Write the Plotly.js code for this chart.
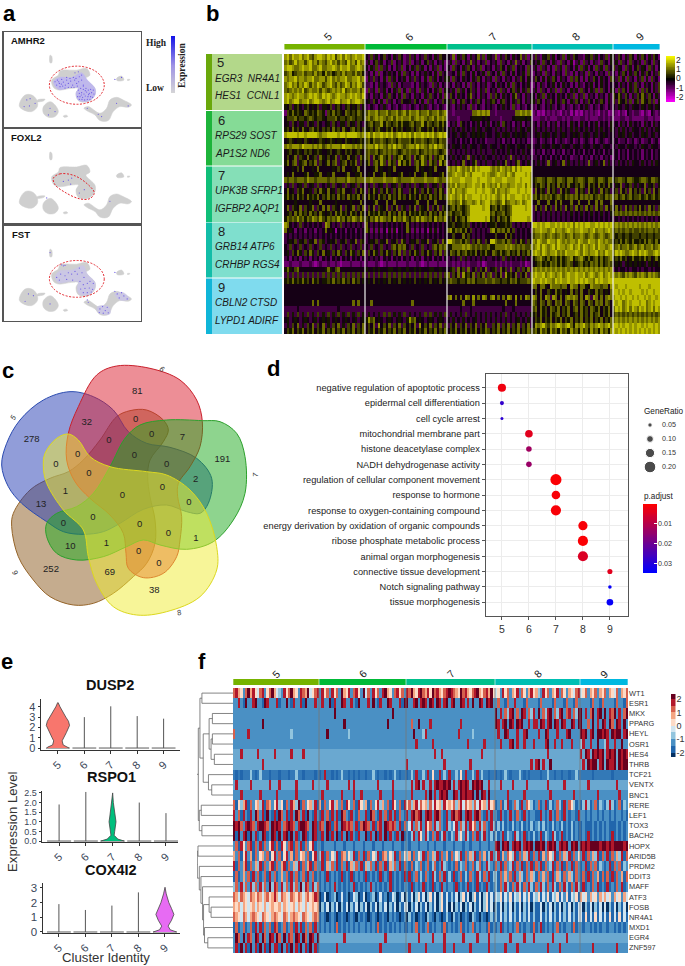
<!DOCTYPE html>
<html><head><meta charset="utf-8">
<script src="https://cdn.plot.ly/plotly-3.0.1.min.js"></script>
<style>html,body{margin:0;padding:0;background:#fff}#g{width:685px;height:966px}.heatmaplayer image{filter:blur(.5px)}</style></head>
<body><div id="g"></div>
<script>
/* ---------- data ---------- */
const clusters=['5','6','7','8','9'];
const clusterColors=['#76B300','#00BA38','#00C08B','#00BFB3','#00B8E0'];
/* panel b : each digit 0-9 = scaled expression -2.5..2.5 */
const bWidths=[81,82,85,81,47];
const bCounts=[32,32,34,32,20];
const bRows=[
"89798897897689987989689798789889 43635246342536423635243634253644 4372536425347362543725364253473625 36325463524362536433254635243625 53642536425364253642",
"78679788689786876897868769786978 35246352436243523624352463524352 3526342537352436243526342537352436 43526342532634251352634253263425 35263426343526342634",
"89987789889778977889879889778987 42536263524253624253635242536242 4263425364253624342536425362434263 35263524263526342526352426352634 63542635246354263524",
"67856778677686758675676867768675 34252624353425263425243534252634 3342526342524352634252634252435263 24352634253426325243526342534263 42536425364253642536",
"87889788788977886897878897788978 25363425263524352536342526352435 5263425342536425352634253425364253 36425253642534263642525364253426 53625263425362526342",
"78978687986879867897686798687986 33242534326352433324253432635243 3425342526342435234253425263424352 24253243524253424253243524253424 34253425363425342536",
"76787879678778687678787967877868 26352635242536252635263524253625 4352635246352536243526352463525362 35263425362634253526342536263425 52636425365263642536",
"89878988789898798987898878989879 34253425363425263425342536342526 3642534257342534263642534257342534 42536253425342536253625342534253 64753642536475364253",
"89789978897899878978997889789987 45364252635243644536425263524364 5364256342536425356425634253642535 53642536425364253642536425364253 63754636256375463625",
"54635643564546355463564356454635 32432435324324323243243532432432 4324353426324324343243534263243243 32432435324324324324353243243243 43543543544354354354",
"26575654765657652657565476565765 68778677867786786877867786778678 3323333333778787833233333337787878 23121323232132313121323232132312 32132143233213214323",
"46667566567656654666756656765665 78678787678687877867878767868787 3333233334555545433332333345555454 22233232223323232223323222332323 22233223222223322322",
"45364355364536434536435536453643 56756685765675755675668576567575 2435264342435243524352643424352435 34253424352434253425342435243425 34253425343425342534",
"56475647546756465647564754675646 55646754657465645564675465746564 4353435343535435443534353435354354 35343534353534353534353435353435 43535343544353534354",
"89999899899998788999989989999878 89798898989789898979889898978989 4345354534545453443453545345454534 34535453453454345453545345345434 43545345344354534534",
"45654554654545654565455465454565 67576676567657666757667656765766 3343424342434342333434243424343423 23423432423432342342343242343234 34233423423423342342",
"78788879888787867878887988878786 78879787687978767887978768797876 4354435435443544354435435443544354 34435443544354435443544354435443 43544354434354435443",
"45645654656456544564565465645654 67667567676765676766756767676567 3534343534343534335343435343435343 24342434243424342434243424342434 34243424343424342434",
"46457365474563754645736547456375 67375686573657856737568657365785 4353435373534353443534353735343534 33424342434243423342434243424342 34243424343424342434",
"57467356746573645746735674657364 57367586375638575736758637563857 3435347343573435334353473435734353 43534373453473534353437345347353 43534353544353435354",
"44454647444547444445464744454744 44457454454744444445745445474444 8787987879798999987879878797989999 44444444444444444444444444444444 44444444444444444444",
"45474444574455744547444457445574 45474457454445744547445745444574 7789887987999989877898879879999898 44444444444444444444444444444444 44444444444444444444",
"76776777687767777677677768776777 77877778777876777787777877787677 8988899888998999889888998889989998 56776577657765775677657765776577 56776577655677657765",
"35363453634536343536345363453634 35363453634536343536345363453634 7879788788988979878797887889889798 46576475647564754657647564756475 35473546353547354635",
"47453657445364754745365744536475 36475364753647533647536475364753 8797887899989989987978878999899899 37465374653746533746537465374653 46374637464637463746",
"57564756475657465756475647565746 47564756475647564756475647564756 8987897988999898989878979889998989 67576767567657676757676756765767 67567567566756756756",
"44445444445444744444544444544474 44457444744744444445744474474444 7876796788789789978767967887897899 44744474474744474474447447474447 44444444444444444444",
"47365473645736474736547364573647 36473654736473653647365473647365 5675765679999989956757656799999899 37463746374637463746374637463746 47463746364746374636",
"45647575647564754564757564756475 47565756475647574756575647564757 6756675679999999967566756799999999 34353435343534353435343534353435 67676767676767676767",
"57676867576876865767686757687686 65768687675867686576868767586768 5647567589999998956475675899999989 34343434343434343434343434343434 34343434343434343434",
"87434363434343438743436343434343 74343434343434347434343434343434 5564556563434343455645565634343434 99898998898989897989899889898989 78787878787878787878",
"74542434243424347454143424342434 75252524152514347525242415252434 7857675746343434378576757463434343 78898878978878987889887897887898 67676776766767677676",
"34343434343434343434343434343434 34343434343434343434343434343434 4464447464343434444644474643434344 67787678767876786778767876787678 65665665666566566566",
"34546354635473653454635463547365 34546354735463753454635473546375 9976675763647536499766757636475364 87987798879878788798779887987877 56575765755657576575",
"43634363436343634363436343634363 43634363436757674363436343675767 5577778787676766755777787876767667 78979878979887897897987897988789 67867786786786778678",
"45364753647536474536475364753647 36475364753647363647536475364736 4765756756574657547657567565746575 89879878897879888987987889787988 79898778987989877898",
"34243424342434243424342434243424 34343424342434243424342434243424 3434363534343534334343635343435343 56786575675756785678657567575678 56575645755657564575",
"22322232223212322322321222322232 32223212322232223222321232223222 3323232323332312333232323233323123 45675657675756764567565767575676 45453545454545354545",
"57546744444444445754674444444444 54454544455445445445454445544544 4563746373463647345637463734636473 78787878787878787878787878787878 34344343443434434344",
"36363636363636363636363636363636 36363636363636363636363636363636 7364738564736473673647385647364736 89889789878978988988978987897898 87876878768787687876",
"56575657564756455657565756475645 45464545464546454546454546454645 6766566576756667667665665767566676 98898988798988988989898879898899 99999999999999999999",
"44444444444444444444444444444444 44444444444444444444444444444444 4444444444444444444444444444444444 77477548777677487747754877767748 98999899999899989999",
"44444444444444444444444444444444 44444444444444444444444444444444 4444444444444444444444444444444444 46474465475645474647446547564547 99898998999989899899",
"44444444444444444444444444444444 44444444444444444444444444444444 7847474874847487478474748748474874 87474873874747878747487387474787 89989899898998989989",
"44444444444747444444444444474744 44744444444444444474444444444444 4444447444744444444444474447444444 76476476476747647647647647674764 98997898999899789899",
"33333433333333333333343333333333 33333333333333333333333333333333 3333343334333333333333433343333333 67475647657465746747564765746574 79897897987989789798",
"36353635363536353635363536353635 35343536363535363534353636353536 3534353634353435353435363435343535 56475647567465745647564756746574 67676767676767676767",
"45345434543453454534543454345345 58674543454345435867454345434543 4353435343453435343534353434534353 46574657465746574657465746574657 78787878787878787878",
"35364735364736473536473536473647 46473846473647364647384647364736 3647364736473647336473647364736473 58789768789878975878976878987897 99898998989989899898",
"46574657465746574657465746574657 46574657465746574657465746574657 4657465746574657646574657465746576 67586758675867586758675867586758 98989898989898989898"];
const bLabelColors=['#B3D88A','#85DB96','#85DFB7','#7FDFCE','#7FDBEE'];
const bLabelBars=['#6AA80B','#1DB43A','#10BE78','#12BDA8','#10B5D8'];
const bGenes=[['EGR3  NR4A1','HES1  CCNL1'],['RPS29 SOST','AP1S2 ND6'],['UPK3B SFRP1','IGFBP2 AQP1'],['GRB14 ATP6','CRHBP RGS4'],['CBLN2 CTSD','LYPD1 ADIRF']];
/* panel f : 0-9 = colour step, a / b = the paler / deeper blue background rows */
const fWidths=[86,87,89,85,48];
const fCounts=[36,36,38,36,20];
const fGenes=['WT1','ESR1','MKX','PPARG','HEYL','OSR1','HES4','THRB','TCF21','VENTX','BNC1','RERE','LEF1','TOX3','BACH2','HOPX','ARID5B','PRDM2','DDIT3','MAFF','ATF3','FOSB','NR4A1','MXD1','EGR4','ZNF597'];
const fRows=[
"786527968547825796432857965287694578 285728572965827852947285728965278572 87965897685978657898765978657896578695 452857265827526856328572658275265478 45726572657265472657",
"228219228922198222812292182281922282 282291822982282192228292182298222819 92289289829829828928922982829229829892 272217228222172222172222172221722172 22221722172222172217",
"222222222222222222222222222222222222 222222922222222222222222222222922222 22222222222222222222222222222222222222 928273892729827382927389273892782739 92827928929287928279",
"222222222222922222222222222222222222 222222222292222222222222222292222222 22722922228222222222222822222222222222 982892982989228288298289298298229829 92272928298297298292",
"722222822222222222222222322222222222 222922222222322222222222222222222222 22292223822222222222228222223222222222 282298222822892222822982228222892222 98928929989829899289",
"222222222222222222222222222222222222 222222222222222222222222222222222222 22228222222822222222222222822222282222 228222892822822282222892282282228222 38228229223822822922",
"aaa8aaaaaa8aaaaaa8aaaaaa8aaaa8aaaaaa aaaaaaaaaaaaaaaaaaaaaaaaaaaaaaaaaaaa aaaaaaaaaaaa8aa8aaaaaaaaaaaaaaaa8aaaaa aaaaaaaaaaaaaaaaaaaaaa8aaaaaaaaaaaaa 8a98a98989a8989a9898",
"aaaaaaaaaaaa8aaaaaaaaaaaaaaaaaaaaaaa aaaaaaaaaaaaaaaaaaaaaaaaaaaaaaaaaaaa 8aaaaaaaaaaaaaaa8aaaaaaaaaa8aaaaaaaaaa aaaaaaaaaaaaaaa8a89a8aa9aaaaaaaaaaaa a8a9899a89a9889a9899",
"b1b1bbb3b1b3bbb1bbb1bbb1bb3bb1bbbb1b 1b8bb1b1b3bb1b1b1bb1bb3b1bb1b1b3b1bb 1b3b8bb3b8b5bb8b3b8bb3b5b8bb3b8b3bb1bb 1b1b3b1bbb3b1b1bbbb1bb3bb1bb1bb1bb3b bbbbb1bbbbbbb1bbbbbb",
"a8aaaaa8aaaaaaa8aaa8aaaaaa8aaaaaa8aa aaa8aaaaaaaa8a8aaaaaaaaa8aaaaa8aaaaa aa8a89a8aa8a8988989a8a89898a98989aa8aa aa8aaaa8aaaaa8aaaaaaaa8aaaaaa8aaaaaa aaa8aaaaaaaaaaa8aaaa",
"222822222228222222822222228222222222 282222222822228228222222282222822222 22822222829282898922982989889292982922 222228222222822222222228222222222822 22222228222222228222",
"715368172563817625835172863917256381 617258362718527185361725836271852718 57368475637485638565736847563748563856 127138127318275312712813127318275312 13831271321383127132",
"827182182972819218197281829728192182 182718281972182172281972182718281721 82897892898289721828978928982897218282 218212821721821221182128217218212218 22121221212212122121",
"989728987289987298982789872899872981 872981782987872817987281782987872817 24827382857283721832482738285728372183 131312131213121312313121312131213121 12111212121211121212",
"919289192812981298192891928129812981 182918291829182182291829182918218291 21382852831728138213283528317281382131 312813218312812131281321831281213121 12181212121218121212",
"271852781728172581718527817281725812 212222122212221222122212221222122212 21222122212212221222122212212221222122 892989289892898929989289892898929892 98989999899898999989",
"627158261725627158271582617256271582 381725381762538172817253817625381725 36172538172638172617253817263817261382 381627538172638172816275381726381725 28172638172817263817",
"817268172638172681726817263817268172 281637281728163728163728172816372817 21713271271371283212171327127137128321 728172381728172817281723817281728172 12817271321281727132",
"171262718271271827126271827127182712 121812121812181212181212181218121218 18127131721831728131812713172183172813 317262718263172631726271826317263172 17181726171718172617",
"372837283728372938728372837293872837 121212821212128121212821212128121212 21812128121812182122181212812181218212 317283172831728317283172831728317283 18121728121812172812",
"764765476576467568647654765764675687 014012301412014301401230141201430140 31403514035140351413140351403514035141 435142514351425143514251435142514351 64526452646452645264",
"656465456465464565564654564654645656 031403140314031403140314031403140314 40314031403140351404031403140314035140 314031403140314031140314031403140314 40314031404031403140",
"765476467654765467654764676547654676 121012101210121021210121012102121012 03120121032102101310312012103210210131 314131413141314131141314131413141314 41514151414151415141",
"171271271828172718712712718281727182 121212171212121212212121712121212121 12127121271212217121212712127121221712 128121212712122171281212127121221712 21221212122122121212",
"297292872982972982972928729829729829 aaaaaaaaaa8aaaaaaaaaaaaaaaa8aaaaaaaa aaaaa8aaaaa8aaaa8aaaaaaa8aaaaa8aaaa8aa aaaaaa8aaaaa8aaa8aaaaaaa8aaaaa8aaaaa aaaaaaaaaaaaaaaaaaaa",
"281928192819281928819281928192819281 222222282222222222222222282222222222 28222222822222228222822222282222222822 222282222822222222222282222822222222 22222822222222282222"];
const fColors=['#053061','#2166AC','#4A90C4','#92C5DE','#D1E5F0','#FDDBC7','#F4A582','#D6604D','#B2182B','#67001F'];
/* dendrogram merges: [child, child, height]; child<26 = gene row, else merge index+26 */
const fTree=[[0,1,20],[2,3,52],[4,5,52],[6,7,58],[28,29,48],[27,30,42],[9,10,50],[8,32,40],[31,33,24],[26,34,14],[11,12,18],[13,14,20],[36,37,12],[35,38,9],[15,16,8],[21,22,48],[20,41,42],[24,25,38],[23,43,28],[42,44,25],[19,45,22],[18,46,17],[17,47,12],[40,48,6],[39,49,1]];
/* panel d */
const goTerms=['negative regulation of apoptotic process','epidermal cell differentiation','cell cycle arrest','mitochondrial membrane part','histone deacetylase complex','NADH dehydrogenase activity','regulation of cellular component movement','response to hormone','response to oxygen-containing compound','energy derivation by oxidation of organic compounds','ribose phosphate metabolic process','animal organ morphogenesis','connective tissue development','Notch signaling pathway','tissue morphogenesis'];
const goCluster=[5,5,5,6,6,6,7,7,7,8,8,8,9,9,9];
const goRatio=[.128,.043,.021,.117,.074,.074,.19,.138,.17,.15,.17,.17,.064,.032,.096];
const goP=[.002,.028,.029,.004,.013,.014,.0005,.001,.001,.001,.0005,.005,.004,.034,.034];
const ratioLegend=[.05,.10,.15,.20];
/* panel e : violin outlines (level, half width) and the thin spikes of the other clusters */
const vDusp={lev:[0,.1,.3,.7,1,1.5,2.2,2.6,3,3.5,4,4.4],hw:[.42,.38,.2,.16,.22,.32,.44,.4,.3,.18,.08,.01],c:5,col:'#F8766D',spikes:[0,3.0,4.05,3.1,2.85]};
const vRspo={lev:[0,.1,.3,.5,1,1.3,1.7,2,2.5],hw:[.44,.2,.06,.08,.13,.1,.06,.03,.005],c:7,col:'#00BF7D',spikes:[1.9,2.55,0,2.0,1.45]};
const vCox={lev:[0,.15,.4,.8,1.2,1.6,2,2.6,3.05],hw:[.44,.2,.12,.25,.34,.25,.15,.05,.005],c:9,col:'#E76BF3',spikes:[1.9,1.5,1.8,2.7,0]};
/* panel c : outlines of the five sets and the counts */
const vennSets=[
{n:'9',fill:'rgba(140,90,30,.5)',line:'#96652a',x:[35,40,90,150,205,250,300,350,390,440,490,505,490,450,443,450,465,465,440,400,340,280,220,150,100,55,35],y:[530,490,420,385,365,330,270,200,182,180,210,240,275,330,380,440,510,580,640,680,730,760,765,740,690,620,530]},
{n:'5',fill:'rgba(35,60,180,.5)',line:'#2b4bb0',x:[210,280,340,385,440,510,590,635,625,600,560,500,430,360,310,250,190,140,65,25,5,20,60,130,210],y:[125,140,180,245,280,292,325,385,460,490,485,465,478,520,545,553,545,515,460,410,345,280,210,150,125]},
{n:'6',fill:'rgba(220,30,45,.5)',line:'#c9202c',x:[350,450,540,590,607,600,570,535,533,545,540,530,490,430,385,378,370,330,270,225,200,205,235,290,350],y:[48,55,90,150,215,290,350,400,440,500,570,620,670,683,655,610,550,495,445,395,330,250,170,75,48]},
{n:'7',fill:'rgba(30,170,30,.5)',line:'#2ca02c',x:[500,607,660,710,735,735,700,640,560,480,430,380,310,230,170,140,140,170,230,280,330,375,420,500],y:[210,212,215,250,320,430,510,575,598,585,570,590,620,630,610,560,520,490,470,430,350,265,225,210]},
{n:'8',fill:'rgba(240,235,50,.5)',line:'#dcd820',x:[205,170,135,130,140,190,250,265,290,340,410,500,600,650,650,620,570,500,440,330,270,235,205],y:[252,265,310,350,400,480,540,620,700,770,795,785,740,660,590,490,420,375,365,350,320,270,252]}];
const vennCounts=['278','81','32','0','0','0','7','191','0','0','0','0','2','0','1','0','0','0','13','0','0','0','0','10','1','1','0','0','252','69','38'];
const vennCX=[95,412,260,407,327,455,547,667,233,168,403,500,587,267,196,367,487,567,123,279,190,419,505,211,319,588,416,477,153,329,463];
const vennCY=[270,124,217,208,272,253,264,328,314,344,316,344,389,372,426,437,414,458,463,502,521,524,550,589,582,566,605,641,659,669,723];
/* panel a : map islands, tinted regions, expressing cells */
const umapX=[60,75,95,110,112,95,70,58,60,null,130,150,165,175,165,145,130,130,null,190,200,203,192,190,null,112,135,130,112,112,null,150,155,155,150,150,null,155,175,180,230,260,270,258,285,285,265,235,228,235,215,175,160,155,null,252,265,300,320,330,350,370,395,385,360,340,325,300,285,265,252,null,350,365,372,352,350,null,382,390,388,382];
const umapY=[305,285,285,300,320,335,330,320,305,null,320,305,315,335,350,352,340,320,null,348,346,350,352,348,null,300,298,303,305,300,null,165,168,188,188,165,null,240,225,212,210,205,225,235,265,285,305,302,280,265,265,270,262,240,null,325,320,340,325,300,292,300,315,322,320,335,362,362,345,335,325,null,235,228,240,242,235,null,238,238,241,241];
const tintAX=[160,178,215,245,262,285,285,265,235,228,235,215,175,160,null];
const tintAY=[245,232,232,218,240,265,285,303,300,280,265,262,268,245,null];
const tintFX=[165,180,215,250,262,285,283,265,238,232,235,215,175,165,null,292,305,328,330,318,295,292,null,345,370,388,360,345];
const tintFY=[248,230,228,215,240,265,285,303,300,280,265,262,266,248,null,340,335,340,360,362,355,340,null,300,296,315,318,300];
const dotsAMHR2=[165,245,172,240,178,250,185,238,190,246,196,255,200,240,205,250,212,243,218,255,224,240,230,250,236,245,170,255,180,260,188,258,195,264,205,262,214,262,222,262,232,258,176,245,184,252,200,232,210,235,220,232,228,235,238,230,245,225,235,215,225,218,245,240,250,255,235,270,242,265,250,268,258,265,265,270,272,268,280,270,238,280,245,278,252,282,260,276,268,280,275,278,282,282,233,290,240,290,248,292,256,288,264,290,272,290,278,292,238,298,246,298,254,300,262,298,270,298,250,258,256,272,244,285,266,284,80,300,90,296,105,310,72,320,145,345,150,325,165,335,88,318,345,238,365,232,305,350,295,343,350,310,385,318,262,325];
const dotsFOXL2=[215,244,212,262,190,254,253,279,238,289,140,304,330,314,205,250];
const dotsFST=[185,212,190,215,195,214,170,250,182,240,195,245,205,236,215,240,225,232,238,222,246,236,252,250,178,258,200,256,218,258,232,240,240,262,250,272,262,268,270,262,280,268,242,285,255,283,268,282,278,286,250,296,262,296,274,294,100,305,85,300,75,322,150,330,345,292,352,300,365,296,372,306,358,312,382,315,300,345,308,338,316,350,322,340,298,356,310,358,325,357,265,325,262,318,345,235,150,175];
/* ---------- helpers ---------- */
const W=685,H=966,FONT='Liberation Sans';
const layout={width:W,height:H,margin:{l:0,r:0,t:0,b:0},paper_bgcolor:'#fff',plot_bgcolor:'rgba(0,0,0,0)',showlegend:false,annotations:[],shapes:[]};
const data=[];let axN=0;
const hidden={visible:false,showgrid:false,zeroline:false,fixedrange:true};
function axes(x0,x1,y0,y1,xo,yo){axN++;const s=axN===1?'':axN;
 layout['xaxis'+s]=Object.assign({},hidden,xo,{domain:[x0/W,x1/W],anchor:'y'+s});
 layout['yaxis'+s]=Object.assign({},hidden,yo,{domain:[1-y1/H,1-y0/H],anchor:'x'+s});
 return {xaxis:'x'+s,yaxis:'y'+s};}
function ann(px,py,text,size,o){layout.annotations.push(Object.assign({xref:'paper',yref:'paper',x:px/W,y:1-py/H,text:text,showarrow:false,xanchor:'center',yanchor:'middle',borderpad:0,font:{family:FONT,size:size,color:(o&&o.color)||'#111'}},o||{}));}
function rect(px0,px1,py0,py1,c){layout.shapes.push({type:'rect',xref:'paper',yref:'paper',x0:px0/W,x1:px1/W,y0:1-py1/H,y1:1-py0/H,fillcolor:c,line:{width:0},layer:'below'});}
function dec(ch){return ch==='a'?2.45:ch==='b'?1.45:+ch;}
function parse(rows,counts){return rows.map(r=>r.split(' ').flatMap((s,i)=>{const a=[...s].map(dec);while(a.length<counts[i])a.push(a[a.length-1]);return a.slice(0,counts[i]);}));}
function edges(widths,counts){const e=[0];let t=0;widths.forEach((w,i)=>{for(let k=0;k<counts[i];k++){t+=w/counts[i];e.push(t);}});return e;}
function cum(w){const o=[];let t=0;w.forEach(v=>{t+=v;o.push(t);});return o;}
function legendBar(x0,x1,y0,y1,lo,hi,scale,yo){const a=axes(x0,x1,y0,y1,{range:[0,1]},yo);const n=60,ys=[],zs=[];for(let i=0;i<n;i++){const v=lo+(hi-lo)*i/(n-1);ys.push(v);zs.push([v,v]);}
 data.push(Object.assign({type:'heatmap',x:[0,1],y:ys,z:zs,colorscale:scale,zmin:lo,zmax:hi,showscale:false,hoverinfo:'skip'},a));return a;}
/* ---------- panel letters ---------- */
[['a',9,14],['b',212,13],['c',8,370],['d',273,368],['e',7,661],['f',202,661]].forEach(l=>ann(l[1],l[2],'<b>'+l[0]+'</b>',22,{color:'#000'}));
/* ---------- panel a ---------- */
const boxes=[[32,126.5,'AMHR2',tintAX,tintAY,dotsAMHR2,'#bfb8ec'],[129,223,'FOXL2',null,null,dotsFOXL2,null],[226,320.5,'FST',tintFX,tintFY,dotsFST,'#cbc7e4']];
boxes.forEach((b,i)=>{
 const a=axes(3.5,140.5,b[0],b[1],{visible:true,showline:true,mirror:true,linecolor:'#555',linewidth:1.5,showticklabels:false,ticks:'',range:[10,422]},{visible:true,showline:true,mirror:true,linecolor:'#555',linewidth:1.5,showticklabels:false,ticks:'',range:[380,95]});
 data.push(Object.assign({type:'scatter',mode:'lines',x:umapX,y:umapY,fill:'toself',fillcolor:'#cfcfcf',line:{color:'#cfcfcf',width:.5,shape:'spline'},hoverinfo:'skip'},a));
 if(b[3])data.push(Object.assign({type:'scatter',mode:'lines',x:b[3],y:b[4],fill:'toself',fillcolor:b[6],line:{color:b[6],width:.5,shape:'spline'},hoverinfo:'skip'},a));
 const dx=b[5].filter((v,k)=>k%2===0),dy=b[5].filter((v,k)=>k%2===1);
 data.push(Object.assign({type:'scatter',mode:'markers',x:dx,y:dy,marker:{color:'#6a58e6',size:1.2},hoverinfo:'skip'},a));
 const dash={color:'#e3262e',width:1,dash:'2px,1.5px'};
 if(i===1){data.push(Object.assign({type:'scatter',mode:'lines',x:[160,180,225,270,283,270,240,195,165,160],y:[244,231,237,269,289,306,307,287,264,244],line:Object.assign({shape:'spline'},dash),hoverinfo:'skip'},a));}
 else{layout.shapes.push({type:'circle',xref:a.xaxis,yref:a.yaxis,x0:148,x1:313,y0:i===0?198:199,y1:i===0?313:310,line:dash});}
 ann(10+ (i===2?1:0),b[0]+8.5,'<b>'+b[2]+'</b>',9.5,{xanchor:'left',color:'#111'});
});
legendBar(171,175,36,93,0,1,[[0,'#d6d6d6'],[.5,'#9b8fe6'],[1,'#1010e8']],{range:[0,1]});
ann(156,43,'<b>High</b>',9.5,{font:{family:'Liberation Serif',size:9.5,color:'#222'}});
ann(155,88,'<b>Low</b>',9.5,{font:{family:'Liberation Serif',size:9.5,color:'#222'}});
ann(182,66,'<b>Expression</b>',9.5,{textangle:-90,font:{family:'Liberation Serif',size:9.5,color:'#222'}});
/* ---------- panel b ---------- */
const bZ=parse(bRows,bCounts),bE=edges(bWidths,bCounts),bCum=cum(bWidths),bSum=bCum[4];
const bA=axes(284,660,54,334,{range:[0,bSum]},{range:[49.5,-.5]});
const purpleYellow=[[0,'#FF00FF'],[.5,'#000000'],[1,'#FFFF00']];
data.push(Object.assign({type:'heatmap',x:bE,y:bRows.map((r,i)=>i),z:bZ,zmin:-1.5,zmax:10.5,colorscale:purpleYellow,showscale:false,hoverinfo:'skip'},bA));
bCum.slice(0,4).forEach(v=>layout.shapes.push({type:'line',xref:bA.xaxis,yref:'paper',x0:v,x1:v,y0:1-334/H,y1:1-54/H,line:{color:'#f2f2f2',width:1.2}}));
bWidths.forEach((w,i)=>{const x0=i?bCum[i-1]:0;
 layout.shapes.push({type:'rect',xref:bA.xaxis,yref:'paper',x0:x0+.4,x1:x0+w-.4,y0:1-49.5/H,y1:1-44/H,fillcolor:clusterColors[i],line:{width:0}});
 layout.annotations.push({xref:bA.xaxis,yref:'paper',x:x0+w/2+3,y:1-37/H,xanchor:'center',yanchor:'middle',text:clusters[i],showarrow:false,textangle:-45,font:{family:FONT,size:11,color:'#222'}});
});
[[54,110],[111,165.5],[166.5,222],[222.5,277.5],[278.5,334]].forEach((r,i)=>{
 rect(212,282,r[0],r[1],bLabelColors[i]);rect(206,212,r[0],r[1],bLabelBars[i]);
 ann(220+(i?1:0),r[0]+9,clusters[i],13,{color:'#222'});
 ann(214,r[0]+24,'<i>'+bGenes[i][0]+'</i>',10,{xanchor:'left',color:'#1a1a1a'});
 ann(214,r[0]+42,'<i>'+bGenes[i][1]+'</i>',10,{xanchor:'left',color:'#1a1a1a'});
});
legendBar(666,675,56,102,-2.54,2.43,[[0,'#FF00FF'],[.5,'#000000'],[1,'#FFFF00']],{visible:true,side:'right',range:[-2.54,2.43],tickvals:[-2,-1,0,1,2],ticktext:['-2','-1','0','1','2'],ticks:'',showline:false,tickfont:{family:FONT,size:8.5,color:'#222'}});
/* ---------- panel c ---------- */
const cA=axes(0,250,350,630,{range:[0,750]},{range:[840,0]});
vennSets.forEach(s=>data.push(Object.assign({type:'scatter',mode:'lines',x:s.x,y:s.y,fill:'toself',fillcolor:s.fill,line:{color:s.line,width:1,shape:'spline',smoothing:1},hoverinfo:'skip'},cA)));
data.push(Object.assign({type:'scatter',mode:'text',x:vennCX,y:vennCY,text:vennCounts,textfont:{family:FONT,size:9.5,color:'#222'},hoverinfo:'skip'},cA));
[[40,203,'5',-60],[488,57,'6',30],[538,788,'8',-20],[45,667,'9',60]].forEach(l=>layout.annotations.push({xref:cA.xaxis,yref:cA.yaxis,x:l[0],y:l[1],xanchor:'center',yanchor:'middle',text:'<i>'+l[2]+'</i>',textangle:l[3],showarrow:false,font:{family:FONT,size:7.5,color:'#333'}}));
ann(255,475,'<i>7</i>',7.5,{textangle:-90,color:'#333'});
/* ---------- panel d ---------- */
const pScale=[[0,'#FF0000'],[1,'#0000FF']];
const size=r=>2+48*r;
const dA=axes(486,628,374,616,{visible:true,range:[4.41,9.67],tickvals:[5,6,7,8,9],showgrid:true,gridcolor:'#ececec',showline:true,mirror:true,linecolor:'#555',linewidth:1.3,ticks:'outside',ticklen:3,tickcolor:'#555',tickfont:{family:FONT,size:10.5,color:'#333'}},
 {visible:true,type:'linear',range:[14.9,-.9],tickvals:goTerms.map((t,i)=>i),ticktext:goTerms,showgrid:true,gridcolor:'#ececec',showline:true,mirror:true,linecolor:'#555',linewidth:1.3,ticks:'outside',ticklen:3,tickcolor:'#555',tickfont:{family:FONT,size:9.25,color:'#222'}});
data.push(Object.assign({type:'scatter',mode:'markers',x:goCluster,y:goTerms.map((t,i)=>i),marker:{size:goRatio.map(size),color:goP,colorscale:pScale,cmin:0,cmax:.035,opacity:1,line:{width:0}},hoverinfo:'skip'},dA));
const lA=axes(640,660,418,474,{range:[0,1]},{range:[3.5,-.5]});
data.push(Object.assign({type:'scatter',mode:'markers',x:ratioLegend.map(()=>.5),y:ratioLegend.map((r,i)=>i),marker:{color:'#000',size:ratioLegend.map(size)},hoverinfo:'skip'},lA));
ratioLegend.forEach((r,i)=>ann(661,425+i*13.8,r.toFixed(2),7.2,{xanchor:'left',color:'#333'}));
ann(643,411,'GeneRatio',8.2,{xanchor:'left',color:'#222'});
ann(643,496,'p.adjust',8.2,{xanchor:'left',color:'#222'});
legendBar(643,657,504,573,0,.035,pScale,{visible:true,side:'right',range:[.035,0],tickvals:[.01,.02,.03],ticktext:['0.01','0.02','0.03'],ticks:'inside',ticklen:3,tickcolor:'#fff',showline:false,tickfont:{family:FONT,size:7.2,color:'#333'}});
/* ---------- panel e ---------- */
function violinPanel(v,rc,xr,yr,yo,title,ty,tx,fs){
 const a=axes(rc[0],rc[1],rc[2],rc[3],{visible:true,range:xr,tickvals:[5,6,7,8,9],ticktext:clusters,tickangle:-45,showline:true,linecolor:'#333',linewidth:1.2,ticks:'outside',ticklen:3,tickcolor:'#333',tickfont:{family:FONT,size:11,color:'#3a4658'}},
  Object.assign({visible:true,range:yr,showline:true,linecolor:'#333',linewidth:1,ticks:'outside',ticklen:2.5,tickcolor:'#333',tickfont:{family:FONT,size:fs,color:'#3a4658'}},yo));
 clusters.forEach((c,i)=>{const x=+c;
  data.push(Object.assign({type:'scatter',mode:'lines',x:[x-.45,x+.45],y:[0,0],line:{color:'#999',width:1.6},hoverinfo:'skip'},a));
  if(v.spikes[i]>0)data.push(Object.assign({type:'scatter',mode:'lines',x:[x,x],y:[0,v.spikes[i]],line:{color:'#555',width:1},hoverinfo:'skip'},a));});
 const xs=v.lev.map((l,i)=>v.c-v.hw[i]).concat(v.lev.slice().reverse().map((l,i)=>v.c+v.hw[v.lev.length-1-i]));
 const ys=v.lev.concat(v.lev.slice().reverse());
 data.push(Object.assign({type:'scatter',mode:'lines',x:xs,y:ys,fill:'toself',fillcolor:v.col,line:{color:'#444',width:.8},hoverinfo:'skip'},a));
 ann(tx,ty,'<b>'+title+'</b>',14.5,{color:'#111'});
}
violinPanel(vDusp,[41,180,699,750],[4.36,9.62],[-.19,4.76],{tickvals:[0,1,2,3,4]},'DUSP2',685,110,11);
violinPanel(vRspo,[42,178,791,842],[4.36,9.45],[-.05,2.6],{tickvals:[0,.5,1,1.5,2,2.5],ticktext:['0.0','0.5','1.0','1.5','2.0','2.5']},'RSPO1',777,111,9);
violinPanel(vCox,[43,180,883,933],[4.4,9.57],[-.07,3.34],{tickvals:[0,1,2,3]},'COX4I2',870,111,11.5);
ann(12,822,'Expression Level',13.2,{textangle:-90,color:'#333'});
ann(106,957,'Cluster Identity',13.2,{color:'#333'});
/* ---------- panel f ---------- */
const fZ=parse(fRows,fCounts),fE=edges(fWidths,fCounts),fCum=cum(fWidths),fSum=fCum[4];
const fStops=fColors.map((c,i)=>[i/9,c]);
const fA=axes(233,628,688,953,{range:[0,fSum]},{visible:true,side:'right',range:[25.5,-.5],tickvals:fGenes.map((g,i)=>i),ticktext:fGenes,ticks:'',showline:false,tickfont:{family:FONT,size:7.4,color:'#333'}});
data.push(Object.assign({type:'heatmap',x:fE,y:fGenes.map((g,i)=>i),z:fZ,zmin:0,zmax:9,colorscale:fStops,showscale:false,hoverinfo:'skip'},fA));
fCum.slice(0,4).forEach(v=>layout.shapes.push({type:'line',xref:fA.xaxis,yref:'paper',x0:v,x1:v,y0:1-953/H,y1:1-688/H,line:{color:'#777',width:.8}}));
fWidths.forEach((w,i)=>{const x0=i?fCum[i-1]:0;
 layout.shapes.push({type:'rect',xref:fA.xaxis,yref:'paper',x0:x0+.3,x1:x0+w-.3,y0:1-685/H,y1:1-679/H,fillcolor:clusterColors[i],line:{width:0}});
 layout.annotations.push({xref:fA.xaxis,yref:'paper',x:x0+w/2,y:1-674/H,xanchor:'center',yanchor:'middle',text:clusters[i],showarrow:false,textangle:-45,font:{family:FONT,size:10.5,color:'#222'}});
});
const tA=axes(197,233,688,953,{range:[5,115]},{range:[25.5,-.5]});
const nodes=[];const tx=[],ty=[];
const pos=c=>c<26?{y:c,h:115}:nodes[c-26];
fTree.forEach(m=>{const A=pos(m[0]),B=pos(m[1]);tx.push(A.h,m[2],m[2],B.h,null);ty.push(A.y,A.y,B.y,B.y,null);nodes.push({y:(A.y+B.y)/2,h:m[2]});});
data.push(Object.assign({type:'scatter',mode:'lines',x:tx,y:ty,line:{color:'#666',width:.8},hoverinfo:'skip'},tA));
/* colour key of f */
const fKeyVals=[-2.25,-1.75,-1.25,-.75,-.25,.25,.75,1.25,1.75,2.25];
const kA=axes(671,675.5,694,757,{range:[0,1]},{visible:true,side:'right',range:[-2.33,2.37],tickvals:[-2,-1,0,1,2],ticktext:['-2','-1','0','1','2'],ticks:'',showline:false,tickfont:{family:FONT,size:9,color:'#333'}});
data.push(Object.assign({type:'heatmap',x:[0,1],y:fKeyVals,z:fKeyVals.map((v,i)=>[i,i]),zmin:0,zmax:9,colorscale:fStops,showscale:false,hoverinfo:'skip'},kA));
Plotly.newPlot('g',data,layout,{displayModeBar:false,staticPlot:true});
</script></body></html>
